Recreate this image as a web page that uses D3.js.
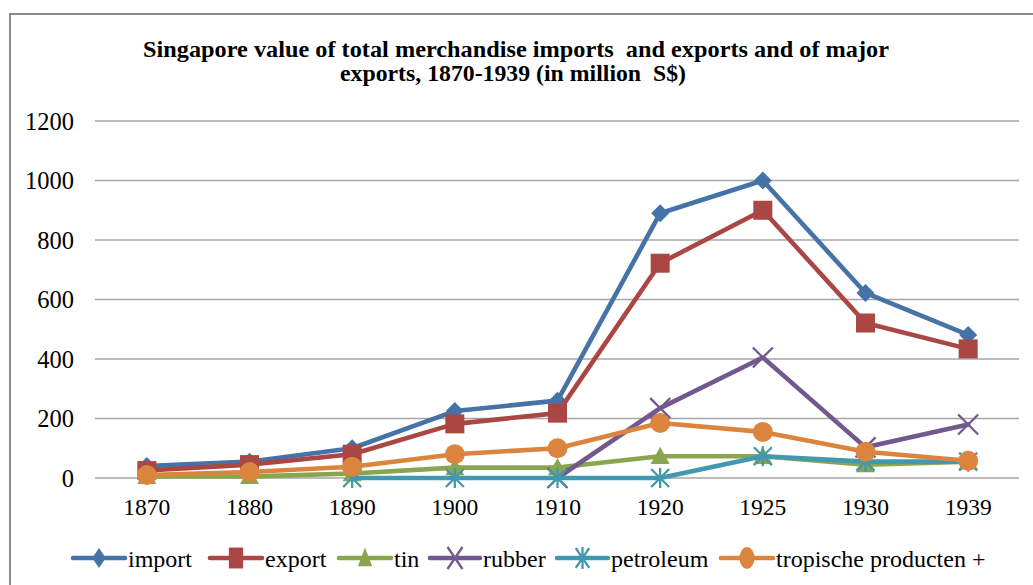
<!DOCTYPE html>
<html><head><meta charset="utf-8">
<script src="https://cdn.jsdelivr.net/npm/d3@7"></script>
<style>body{margin:0;background:#fff}svg{display:block}</style>
</head><body>
<svg id="c" width="1033" height="585"></svg>
<script>
const categories = ["1870","1880","1890","1900","1910","1920","1925","1930","1939"];
const importVals = [40, 55, 100, 225, 260, 890, 1000, 622, 481];
const exportVals = [25, 45, 80, 182, 218, 722, 900, 521, 434];
const tinVals = [5, 5, 15, 35, 35, 73, 73, 45, 55];
const rubberVals = [null, null, null, null, 0, 235, 405, 103, 180];
const petroleumVals = [null, null, 0, 0, 0, 0, 73, 55, 55];
const tropVals = [10, 20, 38, 80, 100, 185, 155, 88, 58];
const seriesNames = ["import","export","tin","rubber","petroleum","tropische producten +"];
const yTicks = [0,200,400,600,800,1000,1200];
const titleLines = ["Singapore value of total merchandise imports  and exports and of major","exports, 1870-1939 (in million  S$)"];

const series = [
  {name: seriesNames[0], values: importVals, color: "#4572A7", marker: "diamond"},
  {name: seriesNames[1], values: exportVals, color: "#AA4643", marker: "square"},
  {name: seriesNames[2], values: tinVals, color: "#89A54E", marker: "triangle"},
  {name: seriesNames[3], values: rubberVals, color: "#71588F", marker: "x"},
  {name: seriesNames[4], values: petroleumVals, color: "#4198AF", marker: "star"},
  {name: seriesNames[5], values: tropVals, color: "#DB843D", marker: "circle"}
];

const svg = d3.select("#c");
const font = "'Liberation Serif', 'Times New Roman', Tinos, serif";

svg.append("rect").attr("x",10).attr("y",14).attr("width",1040).attr("height",600)
  .attr("fill","none").attr("stroke","#8a8a8a").attr("stroke-width",2);

const x = d3.scaleBand().domain(categories).range([95.5, 1019.5]);
const y = d3.scaleLinear().domain([0,1200]).range([478, 121]);

// title
const titleCfg = [{x0:143, w:746, y:57},{x0:340, w:346, y:81}];
svg.append("g").selectAll("text").data(titleLines).join("text")
  .attr("x",(d,i)=>titleCfg[i].x0).attr("y",(d,i)=>titleCfg[i].y)
  .attr("textLength",(d,i)=>titleCfg[i].w).attr("lengthAdjust","spacingAndGlyphs")
  .attr("font-family",font).attr("font-weight","bold").attr("font-size",23)
  .attr("fill","#000").style("white-space","pre")
  .text(d=>d);

// gridlines
svg.append("g").selectAll("line").data(yTicks).join("line")
  .attr("x1",95).attr("x2",1019).attr("y1",d=>y(d)).attr("y2",d=>y(d))
  .attr("stroke","#a6a6a6").attr("stroke-width",1.5);

const yAxis = d3.axisLeft(y).tickValues(yTicks).tickFormat(d3.format("d")).tickSize(0).tickPadding(21);
const gy = svg.append("g").attr("transform","translate(95,0)").call(yAxis)
  .attr("font-family",font).attr("font-size",24.5);
gy.select(".domain").remove();
gy.selectAll("text").attr("fill","#000").attr("dy","0.34em");

const xAxis = d3.axisBottom(x).tickSize(0).tickPadding(0);
const gx = svg.append("g").attr("transform","translate(0,478)").call(xAxis)
  .attr("font-family",font).attr("font-size",23.5);
gx.select(".domain").remove();
gx.selectAll("text").attr("fill","#000").attr("y",37).attr("dy",null);

function cx(i){ return x(categories[i]) + x.bandwidth()/2; }

function drawMarker(g, type, color, px, py, sx, sy){
  sx = sx || 1; sy = sy || sx;
  if(type==="diamond"){
    const rx=9*sx, ry=9*sy;
    g.append("path").attr("d",`M${px},${py-ry}L${px+rx},${py}L${px},${py+ry}L${px-rx},${py}Z`).attr("fill",color);
  } else if(type==="square"){
    const rx=9.5*sx, ry=9.5*sy;
    g.append("rect").attr("x",px-rx).attr("y",py-ry).attr("width",2*rx).attr("height",2*ry).attr("fill",color);
  } else if(type==="triangle"){
    const rx=9.5*sx, ry=9.5*sy;
    g.append("path").attr("d",`M${px},${py-ry}L${px+rx},${py+ry*0.8}L${px-rx},${py+ry*0.8}Z`).attr("fill",color);
  } else if(type==="x"){
    const rx=10*sx, ry=10*sy;
    g.append("path").attr("d",`M${px-rx},${py-ry}L${px+rx},${py+ry}M${px-rx},${py+ry}L${px+rx},${py-ry}`)
      .attr("stroke",color).attr("stroke-width",2.3).attr("fill","none");
  } else if(type==="star"){
    const rx=9*sx, ry=9*sy;
    g.append("path").attr("d",`M${px-rx},${py-ry}L${px+rx},${py+ry}M${px-rx},${py+ry}L${px+rx},${py-ry}M${px},${py-ry-1}L${px},${py+ry+1}`)
      .attr("stroke",color).attr("stroke-width",2.3).attr("fill","none");
  } else if(type==="circle"){
    g.append("ellipse").attr("cx",px).attr("cy",py).attr("rx",10*sx).attr("ry",10*sy).attr("fill",color);
  }
}

const plot = svg.append("g");
series.forEach(s=>{
  const pts = s.values.map((v,i)=>({i,v})).filter(d=>d.v!==null);
  const line = d3.line().x(d=>cx(d.i)).y(d=>y(d.v));
  const g = plot.append("g");
  g.append("path").attr("d",line(pts)).attr("fill","none").attr("stroke",s.color)
    .attr("stroke-width",4.6).attr("stroke-linejoin","round").attr("stroke-linecap","round");
  pts.forEach(d=>drawMarker(g, s.marker, s.color, cx(d.i), y(d.v)));
});

// legend
const legendLine = [[73,125],[210,262],[339,391],[430,480],[557,608],[721,773]];
const ly = 558;
const lg = svg.append("g");
series.forEach((s,i)=>{
  const [a,b] = legendLine[i];
  lg.append("line").attr("x1",a).attr("x2",b).attr("y1",ly).attr("y2",ly)
    .attr("stroke",s.color).attr("stroke-width",4.6).attr("stroke-linecap","round");
  drawMarker(lg, s.marker, s.color, (a+b)/2, ly, 0.75, 1.1);
  lg.append("text").attr("x",b+3).attr("y",ly+9).text(s.name)
    .attr("font-family",font).attr("font-size",24).attr("fill","#000");
});
</script>
</body></html>
